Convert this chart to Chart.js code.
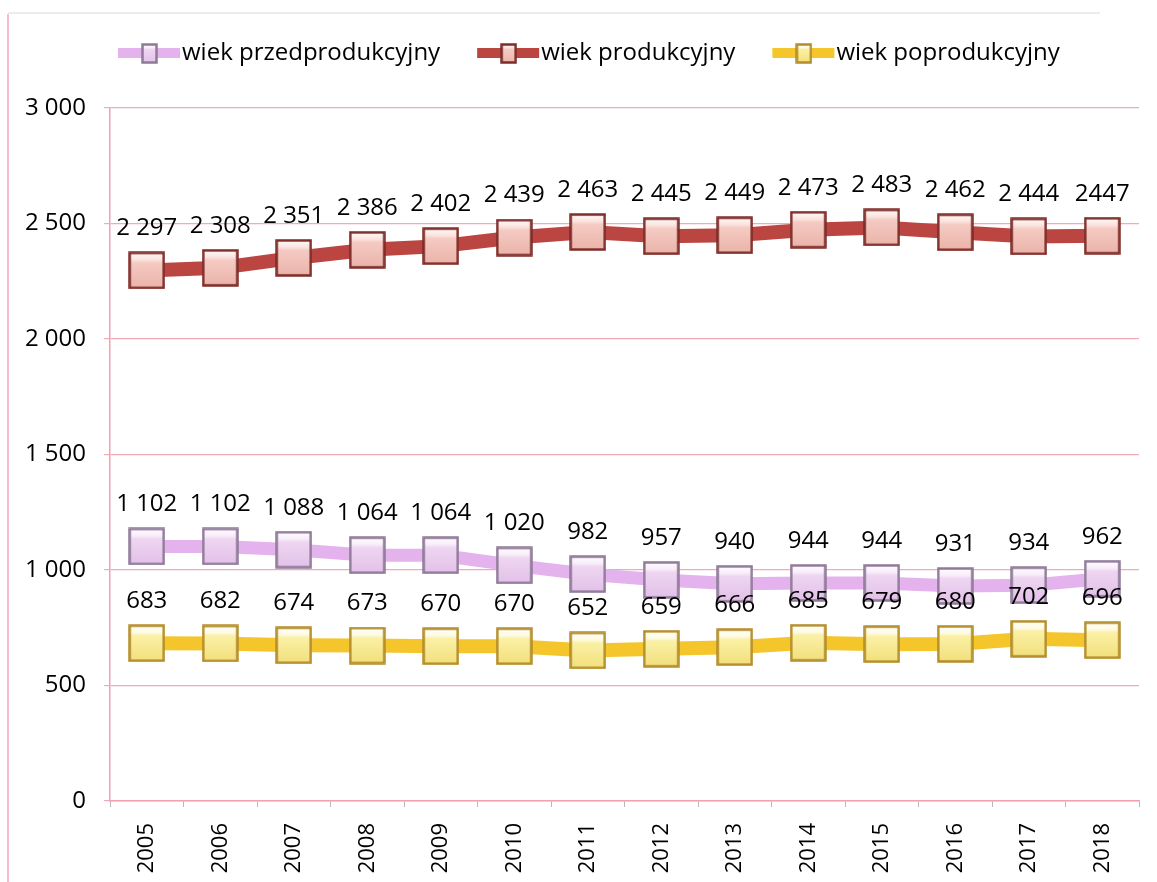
<!DOCTYPE html>
<html>
<head>
<meta charset="utf-8">
<title>wiek ludności</title>
<script src="https://cdn.jsdelivr.net/npm/chart.js@4.4.1/dist/chart.umd.min.js"></script>
<style>
  html, body { margin: 0; padding: 0; background: #fff; }
  canvas { display: block; }
</style>
</head>
<body>
<canvas id="age-chart" width="1157" height="882"></canvas>
<script>
// data
const years = ["2005", "2006", "2007", "2008", "2009", "2010", "2011", "2012", "2013", "2014", "2015", "2016", "2017", "2018"];
const preProd = [1102, 1102, 1088, 1064, 1064, 1020, 982, 957, 940, 944, 944, 931, 934, 962];
const prod = [2297, 2308, 2351, 2386, 2402, 2439, 2463, 2445, 2449, 2473, 2483, 2462, 2444, 2447];
const postProd = [683, 682, 674, 673, 670, 670, 652, 659, 666, 685, 679, 680, 702, 696];
const seriesNames = ["wiek przedprodukcyjny", "wiek produkcyjny", "wiek poprodukcyjny"];
const yTicks = [0, 500, 1000, 1500, 2000, 2500, 3000];

// polish style: space as thousands separator
function fmt(v) {
  return String(v).replace(/\B(?=(\d{3})+(?!\d))/g, " ");
}
const prodLabels = prod.map(fmt);
prodLabels[13] = "2447"; // written without the space in the original

const FONT = "'Open Sans', 'Noto Sans', sans-serif";
Chart.defaults.font.family = FONT;

// glossy square markers
function makeMarker(w, h, light, fill, dark, border) {
  const c = document.createElement("canvas");
  c.width = w;
  c.height = h;
  const g = c.getContext("2d");
  const grad = g.createLinearGradient(0, 0, 0, h);
  grad.addColorStop(0, "#ffffff");
  grad.addColorStop(0.22, light);
  grad.addColorStop(0.3, fill);
  grad.addColorStop(1, dark);
  g.fillStyle = grad;
  g.fillRect(1.5, 1.5, w - 3, h - 3);
  g.strokeStyle = border;
  g.lineWidth = 2.5;
  g.strokeRect(1.5, 1.5, w - 3, h - 3);
  return c;
}

const styles = [
  { line: "#e4b2ec", light: "#f8eefa", fill: "#efd6f2", dark: "#e2c0e8", border: "#8f7a98", width: 13 },
  { line: "#bb4541", light: "#fbe3de", fill: "#f5cbc3", dark: "#eab2a8", border: "#7e2c28", width: 14 },
  { line: "#f5c62c", light: "#fefbe4", fill: "#fbf1a6", dark: "#f2df7a", border: "#b48d2a", width: 14 }
];
const markers = styles.map(s => makeMarker(37, 38, s.light, s.fill, s.dark, s.border));
const legendMarkers = styles.map(s => makeMarker(17, 21, s.light, s.fill, s.dark, s.border));

const frame = {
  id: "frame",
  beforeDraw(chart) {
    const c = chart.ctx;
    c.save();
    c.fillStyle = "#fff";
    c.fillRect(0, 0, chart.width, chart.height);
    c.strokeStyle = "#f2a6b8";
    c.lineWidth = 1.5;
    c.beginPath();
    c.moveTo(8, 14);
    c.lineTo(8, chart.height);
    c.stroke();
    c.strokeStyle = "#e6e6e6";
    c.beginPath();
    c.moveTo(8, 13);
    c.lineTo(1100, 13);
    c.stroke();
    c.restore();
  }
};

const legendLine = {
  id: "legendLine",
  afterDraw(chart) {
    const c = chart.ctx;
    c.save();
    c.font = "24px " + FONT;
    c.textBaseline = "middle";
    c.fillStyle = "#000";
    let x = 118;
    const y = 53;
    seriesNames.forEach((name, i) => {
      c.strokeStyle = styles[i].line;
      c.lineWidth = 10;
      c.beginPath();
      c.moveTo(x, y);
      c.lineTo(x + 62, y);
      c.stroke();
      c.drawImage(legendMarkers[i], x + 23, y - 10);
      c.fillText(name, x + 64, y);
      x += 64 + c.measureText(name).width + 37;
    });
    c.restore();
  }
};

const valueLabels = {
  id: "valueLabels",
  afterDatasetsDraw(chart) {
    const c = chart.ctx;
    const texts = [preProd.map(fmt), prodLabels, postProd.map(fmt)];
    c.save();
    c.font = "24px " + FONT;
    c.textAlign = "center";
    c.textBaseline = "middle";
    c.fillStyle = "#000";
    chart.data.datasets.forEach((ds, i) => {
      chart.getDatasetMeta(i).data.forEach((pt, j) => {
        c.fillText(texts[i][j], pt.x, pt.y - 42);
      });
    });
    c.restore();
  }
};

const allSeries = [preProd, prod, postProd];
const ctx = document.getElementById("age-chart").getContext("2d");

const chart = new Chart(ctx, {
  type: "line",
  data: {
    labels: years,
    datasets: allSeries.map((values, i) => ({
      label: seriesNames[i],
      data: values,
      borderColor: styles[i].line,
      borderWidth: styles[i].width,
      pointStyle: markers[i],
      // the image sets the marker size; small radius keeps the layout from reserving room
      pointRadius: 1,
      pointHoverRadius: 1,
      pointBorderWidth: 0,
      tension: 0,
      fill: false
    }))
  },
  options: {
    responsive: false,
    animation: false,
    events: [],
    layout: { padding: { top: 108, right: 18, left: 0, bottom: 0 } },
    scales: {
      x: {
        offset: true,
        grid: {
          offset: true,
          drawOnChartArea: false,
          drawTicks: true,
          tickLength: 6,
          color: "#b9b9b9"
        },
        border: { color: "#f2a0b4", width: 1.5 },
        ticks: {
          minRotation: 90,
          maxRotation: 90,
          padding: 16,
          color: "#000",
          font: { size: 22 }
        },
        afterFit(scale) {
          scale.height = 81;
          scale.paddingLeft = 0;
          scale.paddingRight = 0;
        }
      },
      y: {
        min: 0,
        max: 3000,
        afterBuildTicks(scale) { scale.ticks = yTicks.map(v => ({ value: v })); },
        grid: {
          color: "#f3a9ba",
          lineWidth: 1.2,
          tickLength: 6
        },
        border: { color: "#f2a0b4", width: 1.5 },
        ticks: {
          padding: 18,
          color: "#000",
          font: { size: 24 },
          callback: v => fmt(v)
        },
        afterFit(scale) { scale.width = 110; }
      }
    },
    plugins: {
      legend: { display: false },
      tooltip: { enabled: false }
    }
  },
  plugins: [frame, valueLabels, legendLine]
});
</script>
</body>
</html>
